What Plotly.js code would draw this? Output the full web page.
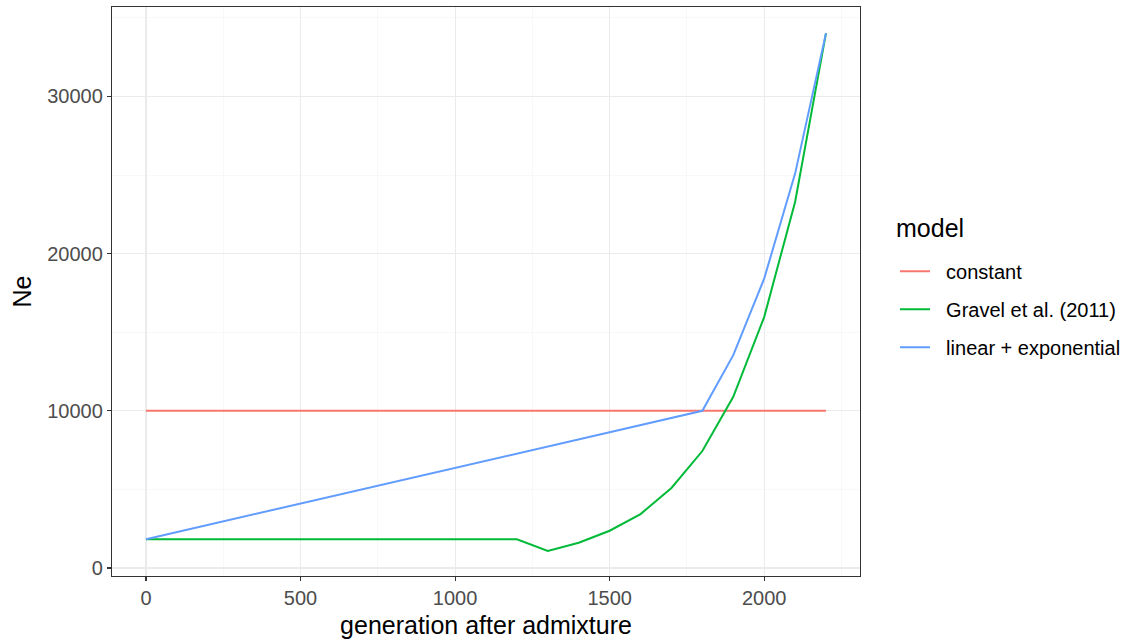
<!DOCTYPE html>
<html>
<head>
<meta charset="utf-8">
<script src="https://cdn.plot.ly/plotly-3.0.1.min.js"></script>
<style>html,body{margin:0;padding:0;background:#fff;}#chart{width:1133px;height:642px;}</style>
</head>
<body>
<div id="chart"></div>
<script>
const seriesNames = ["constant", "Gravel et al. (2011)", "linear + exponential"];
const seriesColors = ["#F8766D", "#00BA38", "#619CFF"];
const legendTitle = "model";

const constantGen = [0, 2200];
const constantNe = [10000, 10000];

const gravelGen = [0, 1200, 1300, 1400, 1500, 1600, 1700, 1800, 1900, 2000, 2100, 2200];
const gravelNe = [1830, 1830, 1090, 1610, 2370, 3430, 5090, 7440, 10890, 15960, 23290, 34030];

const linexpGen = [0, 1800, 1900, 2000, 2100, 2200];
const linexpNe = [1830, 10000, 13540, 18410, 25090, 34030];

const xTicks = [0, 500, 1000, 1500, 2000];
const yTicks = [0, 10000, 20000, 30000];

const FONT = "Liberation Sans, Arial, Helvetica, sans-serif";
const PAD = "\u00A0\u00A0";

const gens = [constantGen, gravelGen, linexpGen];
const nes = [constantNe, gravelNe, linexpNe];

const traces = seriesNames.map((n, i) => ({
  type: "scatter",
  mode: "lines",
  name: PAD + n,
  legendgroup: "g" + i,
  x: gens[i],
  y: nes[i],
  line: {color: seriesColors[i], width: 2},
  hoverinfo: "x+y+name"
}));

const axisCommon = {
  showline: true,
  mirror: true,
  linecolor: "#333333",
  linewidth: 1.2,
  ticks: "outside",
  ticklen: 4,
  tickwidth: 1.1,
  tickcolor: "#333333",
  showgrid: true,
  gridcolor: "#EBEBEB",
  gridwidth: 1.1,
  zeroline: false,
  tickfont: {family: FONT, size: 20, color: "#4D4D4D"},
  minor: {showgrid: true, gridcolor: "#F3F3F3", gridwidth: 0.6, ticks: ""}
};

const layout = {
  width: 1133,
  height: 642,
  margin: {l: 112, r: 273, t: 7, b: 66},
  paper_bgcolor: "#FFFFFF",
  plot_bgcolor: "#FFFFFF",
  font: {family: FONT, color: "#000000"},
  xaxis: Object.assign({}, axisCommon, {
    range: [-110, 2310],
    tickvals: xTicks,
    ticktext: xTicks.map(String),
    minor: Object.assign({}, axisCommon.minor, {tickvals: [250, 750, 1250, 1750, 2250]}),
    title: {text: "generation after admixture", font: {family: FONT, size: 25, color: "#000"}, standoff: 8}
  }),
  yaxis: Object.assign({}, axisCommon, {
    range: [-510, 35690],
    tickvals: yTicks,
    ticktext: yTicks.map(String),
    minor: Object.assign({}, axisCommon.minor, {tickvals: [5000, 15000, 25000, 35000]}),
    title: {text: "Ne", font: {family: FONT, size: 25, color: "#000"}, standoff: 8}
  }),
  showlegend: true,
  legend: {
    x: 1.0468,
    xanchor: "left",
    y: 0.57,
    yanchor: "top",
    font: {family: FONT, size: 20, color: "#000"},
    traceorder: "grouped",
    tracegroupgap: 9,
    bgcolor: "rgba(0,0,0,0)"
  },
  annotations: [{
    text: legendTitle,
    xref: "paper", yref: "paper",
    x: 1.0455, xanchor: "left",
    y: (576 - 228) / 569, yanchor: "middle",
    showarrow: false,
    font: {family: FONT, size: 25, color: "#000"}
  }]
};

Plotly.newPlot("chart", traces, layout, {displayModeBar: false, staticPlot: true});
</script>
</body>
</html>
